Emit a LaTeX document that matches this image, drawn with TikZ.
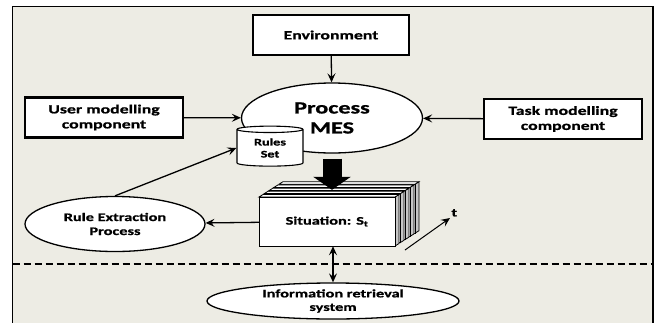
\documentclass[tikz,border=0pt]{standalone}
\usepackage{fontspec}
\setmainfont{Carlito}[FakeStretch=1.42, BoldFeatures={FakeBold=1}]
\usetikzlibrary{arrows.meta,shapes.geometric,calc}
\definecolor{bg}{RGB}{237,236,228}
\begin{document}
\begin{tikzpicture}[x=1pt,y=-1pt,
  box/.style={draw, fill=white, line width=2.2pt, minimum width=156pt, minimum height=40pt, align=center, inner sep=1pt,
    font=\fontsize{12.5}{15}\selectfont\bfseries},
  ell/.style={draw, fill=white, ellipse, line width=1.3pt, align=center, inner sep=0pt},
  arr/.style={line width=1.3pt, -{Stealth[length=9pt,width=8pt,inset=3.5pt]}},
  card/.style={draw, line width=0.8pt}]
\clip (0,0) rectangle (654,322);
\useasboundingbox (0,0) rectangle (654,322);
\fill[white] (0,0) rectangle (654,322);
\draw[line width=1.3pt, fill=bg] (12.5,6.5) rectangle (653,340);

% boxes
\node[box] (env) at (331,35) {Environment};
\node[box, minimum width=158pt] (user) at (104,117.5) {User modelling\\component};
\node[box, minimum width=158pt] (task) at (563,119) {Task modelling\\component};

% process ellipse
\node[ell, minimum width=181pt, minimum height=70pt,
  font=\fontsize{17}{20}\selectfont\bfseries] (mes) at (332,118) {Process\\MES};

% rules set cylinder
\node[cylinder, shape border rotate=90, draw, fill=white, line width=1.1pt, aspect=0.2,
  minimum width=66pt, minimum height=40pt, inner sep=0pt, align=center,
  font=\fontsize{10}{12}\selectfont\bfseries] (rules) at (270,148) {Rules\\Set};

% rule extraction ellipse
\node[ell, minimum width=180pt, minimum height=55pt,
  font=\fontsize{11.5}{14}\selectfont\bfseries] (rule) at (115,224) {Rule Extraction\\Process};

% situation stack
\foreach \k in {4,3,2,1,0} {
  \begin{scope}[shift={(5*\k,-3.2*\k)}]
    \filldraw[card, fill=gray!45] (395,197) -- (399,194.5) -- (399,243.5) -- (395,246) -- cycle;
    \filldraw[card, fill=white] (259,197) -- (263,194.5) -- (399,194.5) -- (395,197) -- cycle;
    \filldraw[card, fill=white] (259,197) rectangle (395,246);
  \end{scope}
}
\node[minimum width=136pt, minimum height=49pt, inner sep=0pt,
  font=\fontsize{11.5}{14}\selectfont\bfseries] (sit) at (327,221.5) {Situation: S\textsubscript{t}};

% big arrow
\draw[line width=19pt, -{Triangle[length=13pt,width=37pt]}]
  ($(mes.south)+(0,5)$) -- ($(mes.south |- sit.north)+(0,-7)$);

% info retrieval
\node[ell, minimum width=252pt, minimum height=36pt,
  font=\fontsize{11.5}{13.5}\selectfont\bfseries] (ir) at (333,301) {Information retrieval\\system};

% dashed separator
\draw[line width=1.3pt, dash pattern=on 7pt off 4pt] (12.5,264) -- (653,264);

% connectors
\draw[arr] (env) -- (mes);
\draw[arr] (user) -- (mes);
\draw[arr] (task) -- (mes);
\draw[arr] (sit) -- (rule);
\draw[arr] (rule.north) -- (rules.west);
\draw[line width=1.3pt, {Stealth[length=9pt,width=8pt,inset=3.5pt]}-{Stealth[length=9pt,width=8pt,inset=3.5pt]}]
  (sit.south -| ir.north) -- (ir.north);

% time arrow
\coordinate (t0) at (405,250);
\coordinate (t1) at (450,218);
\draw[arr, line width=1pt] (t0) -- (t1)
  node[anchor=south west, inner sep=1pt, font=\fontsize{11.5}{14}\selectfont\bfseries] (tl) {t};
\end{tikzpicture}
\end{document}
